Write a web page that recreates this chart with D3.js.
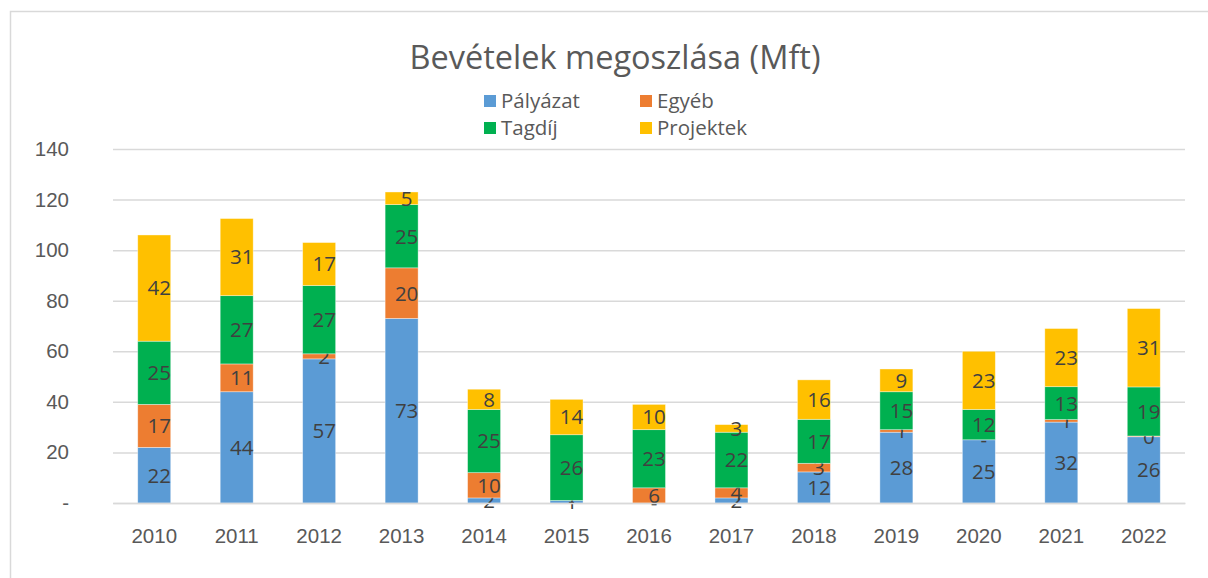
<!DOCTYPE html>
<html>
<head>
<meta charset="utf-8">
<script src="https://cdn.jsdelivr.net/npm/d3@7"></script>
<style>
  body { margin: 0; background: #fff; }
  svg { display: block; font-family: "Open Sans", "Liberation Sans", sans-serif; }
</style>
</head>
<body>
<svg id="drawing_region"></svg>
<script>
// data
const years = ['2010','2011','2012','2013','2014','2015','2016','2017','2018','2019','2020','2021','2022'];
const palyazat  = [22, 44, 57, 73, 2, 1, 0, 2, 12.3, 28, 25, 32, 26.2];
const egyeb     = [17, 11, 2, 20, 10, 0, 6, 4, 3.4, 1, 0, 1, 0.3];
const tagdij    = [25, 27, 27, 25, 25, 26, 23, 22, 17.4, 15, 12, 13, 19.4];
const projektek = [42, 30.5, 17, 5, 8, 14, 10, 3, 15.6, 9, 23, 23, 31];
const yTicks = [0, 20, 40, 60, 80, 100, 120, 140];

const seriesNames = ['Pályázat', 'Egyéb', 'Tagdíj', 'Projektek'];
const colors = ['#5b9bd5', '#ed7d31', '#00b050', '#ffc000'];

const W = 1208, H = 578;
const margin = {top: 149, right: 23, bottom: 75, left: 113};
const iw = W - margin.left - margin.right;
const ih = H - margin.top - margin.bottom;

const table = years.map((y, i) => ({
    year: y,
    'Pályázat': palyazat[i],
    'Egyéb': egyeb[i],
    'Tagdíj': tagdij[i],
    'Projektek': projektek[i]
}));

const svg = d3.select('#drawing_region')
    .attr('width', W)
    .attr('height', H);

// chart frame
svg.append('rect')
    .attr('x', 10.5).attr('y', 11.5)
    .attr('width', W + 10).attr('height', H + 10)
    .attr('fill', 'none')
    .attr('stroke', '#d9d9d9')
    .attr('stroke-width', 1.5);

svg.append('text')
    .attr('x', 615).attr('y', 69)
    .attr('text-anchor', 'middle')
    .attr('font-size', 32.5)
    .attr('fill', '#595959')
    .text('Bevételek megoszlása (Mft)');

const chart = svg.append('g')
    .attr('transform', `translate(${margin.left}, ${margin.top})`);

const xscale = d3.scaleBand()
    .domain(years)
    .range([0, iw])
    .paddingInner(0.6)
    .paddingOuter(0.3);

const yscale = d3.scaleLinear()
    .domain([0, 140])
    .range([ih, 0]);

// gridlines
const yaxis = d3.axisLeft(yscale)
    .tickValues(yTicks)
    .tickSize(-iw)
    .tickFormat(d => d === 0 ? '-' : d);

const yg = chart.append('g').call(yaxis);
yg.select('.domain').remove();
yg.selectAll('.tick line').attr('stroke', '#d9d9d9').attr('stroke-width', 1.5);
yg.selectAll('.tick text')
    .attr('x', -44)
    .attr('font-size', 20.5)
    .attr('fill', '#595959');

const stack = d3.stack().keys(seriesNames);
const stacked = stack(table);

const layers = chart.selectAll('.layer')
    .data(stacked)
    .join('g')
    .attr('class', 'layer')
    .attr('fill', (d, i) => colors[i]);

layers.selectAll('rect')
    .data(d => d)
    .join('rect')
    .attr('x', d => xscale(d.data.year))
    .attr('y', d => yscale(d[1]))
    .attr('width', xscale.bandwidth())
    .attr('height', d => yscale(d[0]) - yscale(d[1]))
    .attr('stroke', '#ffffff')
    .attr('stroke-opacity', 0.5)
    .attr('stroke-width', 0.75);

// x axis
const xaxis = d3.axisBottom(xscale).tickSize(0).tickSizeOuter(0);
const xg = chart.append('g')
    .attr('transform', `translate(0, ${ih})`)
    .call(xaxis);
xg.select('.domain').attr('stroke', '#d9d9d9').attr('stroke-width', 1.5);
xg.selectAll('.tick text')
    .attr('y', 25)
    .attr('font-size', 20.5)
    .attr('fill', '#595959');

// data labels
const fmt = v => v === 0 ? '-' : String(Math.round(v));
layers.selectAll('text')
    .data(d => d)
    .join('text')
    .attr('x', d => xscale(d.data.year) + xscale.bandwidth() / 2 + 5)
    .attr('y', d => (yscale(d[0]) + yscale(d[1])) / 2)
    .attr('dy', '0.36em')
    .attr('text-anchor', 'middle')
    .attr('font-size', 20.5)
    .attr('fill', '#404040')
    .text(d => fmt(d[1] - d[0]));

// legend
const legendPos = [[484, 101], [640, 101], [484, 128], [640, 128]];
const legend = svg.selectAll('.legend')
    .data(seriesNames)
    .join('g')
    .attr('class', 'legend')
    .attr('transform', (d, i) => `translate(${legendPos[i][0]}, ${legendPos[i][1]})`);
legend.append('rect')
    .attr('x', 0).attr('y', -6)
    .attr('width', 12).attr('height', 12)
    .attr('fill', (d, i) => colors[i]);
legend.append('text')
    .attr('x', 17).attr('y', 0)
    .attr('dy', '0.36em')
    .attr('font-size', 20.5)
    .attr('fill', '#595959')
    .text(d => d);
</script>
</body>
</html>
